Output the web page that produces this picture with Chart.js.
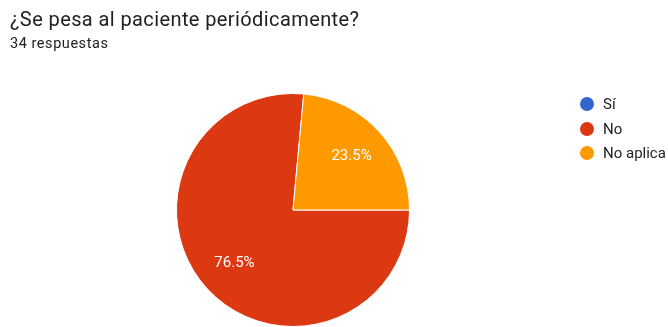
<!DOCTYPE html>
<html>
<head>
<meta charset="utf-8">
<script src="https://cdn.jsdelivr.net/npm/chart.js@4/dist/chart.umd.min.js"></script>
<style>
    html, body { margin: 0; padding: 0; width: 668px; height: 327px; overflow: hidden; background: #fff; font-family: Roboto, Arial, sans-serif; }
    #title { position: absolute; left: 10px; top: 7px; font-size: 20px; line-height: normal; letter-spacing: 0.4px; color: #202124; white-space: nowrap; }
    #subtitle { position: absolute; left: 10px; top: 35px; font-size: 14.5px; line-height: normal; letter-spacing: 0.55px; color: #202124; white-space: nowrap; }
    #wrap { position: absolute; left: 0; top: 0; width: 668px; height: 360px; }
    #legend { position: absolute; left: 580px; top: 92px; font-size: 15px; color: #222; white-space: nowrap; }
    .item { height: 24.5px; display: flex; align-items: center; }
    .dot { width: 14px; height: 14px; border-radius: 50%; margin-right: 9px; }
</style>
</head>
<body>
<div id="wrap"><canvas id="pieChart"></canvas></div>
<div id="title">¿Se pesa al paciente periódicamente?</div>
<div id="subtitle">34 respuestas</div>
<div id="legend"></div>

<script>
// Respuestas
const labels = ['Sí', 'No', 'No aplica'];
const counts = [0, 26, 8];
const colors = ['#3366cc', '#dc3912', '#ff9900'];

// Legend
document.getElementById('legend').innerHTML = labels.map((label, i) => `
    <div class="item"><span class="dot" style="background:${colors[i]}"></span>${label}</div>
`).join('');

// Percent labels inside slices
const sliceLabels = {
    id: 'sliceLabels',
    afterDatasetsDraw(chart) {
        const { ctx } = chart;
        const meta = chart.getDatasetMeta(0);
        const total = counts.reduce((a, b) => a + b, 0);
        ctx.save();
        ctx.fillStyle = '#ffffff';
        ctx.font = '15px Roboto, Arial, sans-serif';
        ctx.textAlign = 'center';
        ctx.textBaseline = 'middle';
        meta.data.forEach((arc, i) => {
            if (!counts[i]) return;
            const mid = (arc.startAngle + arc.endAngle) / 2;
            const r = arc.outerRadius * 0.68;
            const pct = (counts[i] / total * 100).toFixed(1) + '%';
            ctx.fillText(pct, arc.x + Math.cos(mid) * r, arc.y + Math.sin(mid) * r);
        });
        ctx.restore();
    }
};

new Chart(document.getElementById('pieChart'), {
    type: 'pie',
    data: {
        labels: labels,
        datasets: [{
            data: counts,
            backgroundColor: colors,
            borderColor: '#ffffff',
            borderWidth: 1
        }]
    },
    options: {
        responsive: true,
        maintainAspectRatio: false,
        animation: false,
        rotation: 90,
        layout: { padding: { left: 176, right: 258, top: 93, bottom: 33 } },
        plugins: {
            legend: { display: false },
            tooltip: { enabled: false }
        }
    },
    plugins: [sliceLabels]
});
</script>
</body>
</html>
